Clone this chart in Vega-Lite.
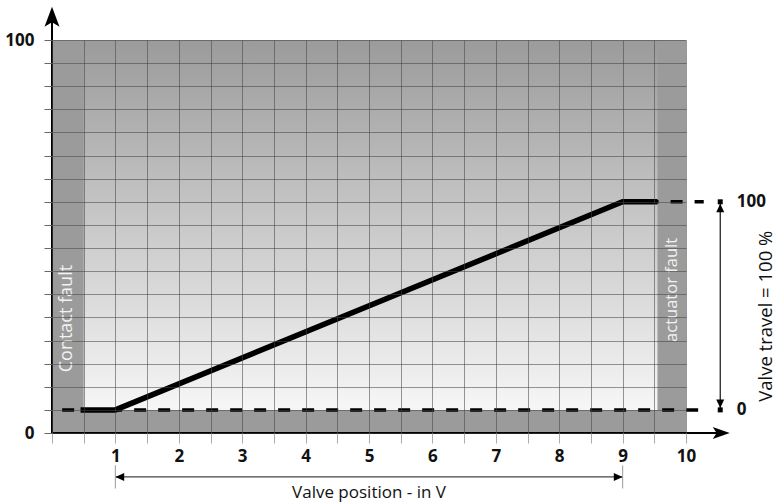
{
  "$schema": "https://vega.github.io/schema/vega-lite/v6.json",
  "width": 634,
  "height": 393,
  "autosize": {"type": "none"},
  "padding": {"left": 52, "top": 40, "right": 92, "bottom": 71},
  "background": "white",
  "config": {
    "view": {"stroke": null},
    "font": "Open Sans"
  },
  "datasets": {
    "bg": [{"x": 0, "x2": 10, "y": 0, "y2": 17}],
    "bands": [
      {"x": 0, "x2": 0.5, "y": 0, "y2": 17},
      {"x": 9.55, "x2": 10, "y": 0, "y2": 17},
      {"x": 0, "x2": 10, "y": 0, "y2": 1}
    ],
    "bandText1": [{"x": 0.23, "y": 4.95, "t": "Contact fault"}],
    "bandText2": [{"x": 9.78, "y": 6.19, "t": "actuator fault"}],
    "dashes": [
      {"x": 0.16, "x2": 10.28, "y": 1},
      {"x": 9, "x2": 10.28, "y": 10}
    ],
    "curve": [
      {"x": 0.45, "y": 1},
      {"x": 1, "y": 1},
      {"x": 9, "y": 10},
      {"x": 9.55, "y": 10}
    ],
    "axisX": [{"x": 0, "x2": 10.6, "y": 0}],
    "axisY": [{"x": 0, "y": 0, "y2": 18}],
    "xTip": [{"x": 10.69, "y": 0}],
    "yTip": [{"x": 0, "y": 18.44}],
    "vDim": [{"x": 10.54, "y": 1, "y2": 10}],
    "vEnds": [{"x": 10.54, "y": 1}, {"x": 10.54, "y": 10}],
    "vUp": [{"x": 10.54, "y": 10}],
    "vDown": [{"x": 10.54, "y": 1}],
    "hDim": [{"x": 1, "x2": 9, "y": -1.9}],
    "hEnds": [{"x": 1, "y": -1.4, "y2": -2.4}, {"x": 9, "y": -1.4, "y2": -2.4}],
    "hLeft": [{"x": 1, "y": -1.9}],
    "hRight": [{"x": 9, "y": -1.9}],
    "rightLabels": [{"x": 10.8, "y": 10, "t": "100"}, {"x": 10.8, "y": 1, "t": "0"}],
    "vTitle": [{"x": 11.35, "y": 5.05, "t": "Valve travel = 100 %"}],
    "hTitle": [{"x": 5, "y": -2.6, "t": "Valve position - in V"}]
  },
  "encoding": {
    "x": {
      "field": "x", "type": "quantitative",
      "scale": {"domain": [0, 10], "nice": false, "zero": false},
      "axis": {
        "values": [0, 0.5, 1, 1.5, 2, 2.5, 3, 3.5, 4, 4.5, 5, 5.5, 6, 6.5, 7, 7.5, 8, 8.5, 9, 9.5, 10],
        "grid": true,
        "gridColor": "#444444",
        "gridOpacity": 0.55,
        "gridWidth": 1,
        "domain": false,
        "tickSize": 10,
        "tickColor": "#aaaaaa",
        "tickWidth": 1,
        "labelExpr": "datum.value > 0 && datum.value % 1 == 0 ? format(datum.value, 'd') : ''",
        "labelFont": "Open Sans",
        "labelFontWeight": "bold",
        "labelFontSize": 17,
        "labelColor": "#111111",
        "labelPadding": 5,
        "labelOverlap": false,
        "labelFlush": false,
        "labelBound": false,
        "zindex": 1,
        "title": null
      }
    },
    "y": {
      "field": "y", "type": "quantitative",
      "scale": {"domain": [0, 17], "nice": false, "zero": false},
      "axis": {
        "values": [0, 1, 2, 3, 4, 5, 6, 7, 8, 9, 10, 11, 12, 13, 14, 15, 16, 17],
        "grid": true,
        "gridColor": "#444444",
        "gridOpacity": 0.55,
        "gridWidth": 1,
        "domain": false,
        "tickSize": 8,
        "tickColor": "#666666",
        "tickWidth": 1,
        "labelExpr": "datum.value == 17 ? '100' : (datum.value == 0 ? '0' : '')",
        "labelFont": "Open Sans",
        "labelFontWeight": "bold",
        "labelFontSize": 17,
        "labelColor": "#111111",
        "labelPadding": 10,
        "labelOverlap": false,
        "labelFlush": false,
        "labelBound": false,
        "zindex": 1,
        "title": null
      }
    }
  },
  "layer": [
    {
      "data": {"name": "bg"},
      "mark": {
        "type": "rect",
        "color": {
          "gradient": "linear",
          "x1": 0, "y1": 0, "x2": 0, "y2": 1,
          "stops": [
            {"offset": 0, "color": "#9b9b9b"},
            {"offset": 1, "color": "#fcfcfc"}
          ]
        }
      },
      "encoding": {"x2": {"field": "x2"}, "y2": {"field": "y2"}}
    },
    {
      "data": {"name": "bands"},
      "mark": {"type": "rect", "color": "#9b9b9b"},
      "encoding": {"x2": {"field": "x2"}, "y2": {"field": "y2"}}
    },
    {
      "data": {"name": "bandText1"},
      "mark": {"type": "text", "angle": 270, "align": "center", "baseline": "middle", "fontSize": 18, "color": "#f2f2f2", "font": "Open Sans"},
      "encoding": {"text": {"field": "t"}}
    },
    {
      "data": {"name": "bandText2"},
      "mark": {"type": "text", "angle": 270, "align": "center", "baseline": "middle", "fontSize": 16.5, "color": "#f2f2f2", "font": "Open Sans"},
      "encoding": {"text": {"field": "t"}}
    },
    {
      "data": {"name": "dashes"},
      "mark": {"type": "rule", "color": "#000000", "strokeWidth": 3.5, "strokeDash": [12, 12], "strokeCap": "butt"},
      "encoding": {"x2": {"field": "x2"}}
    },
    {
      "data": {"name": "curve"},
      "mark": {"type": "line", "color": "#000000", "strokeWidth": 5.5, "strokeCap": "butt", "strokeJoin": "miter"},
      "encoding": {}
    },
    {
      "data": {"name": "axisX"},
      "mark": {"type": "rule", "color": "#000000", "strokeWidth": 2},
      "encoding": {"x2": {"field": "x2"}}
    },
    {
      "data": {"name": "axisY"},
      "mark": {"type": "rule", "color": "#000000", "strokeWidth": 2},
      "encoding": {"y2": {"field": "y2"}}
    },
    {
      "data": {"name": "xTip"},
      "mark": {"type": "point", "shape": "M0,0L-2,-0.72L-1.55,0L-2,0.72Z", "size": 289, "filled": true, "color": "#000000", "opacity": 1},
      "encoding": {}
    },
    {
      "data": {"name": "yTip"},
      "mark": {"type": "point", "shape": "M0,0L-0.75,2L0,1.55L0.75,2Z", "size": 400, "filled": true, "color": "#000000", "opacity": 1},
      "encoding": {}
    },
    {
      "data": {"name": "vDim"},
      "mark": {"type": "rule", "color": "#111111", "strokeWidth": 1.2},
      "encoding": {"y2": {"field": "y2"}}
    },
    {
      "data": {"name": "vEnds"},
      "mark": {"type": "point", "shape": "square", "size": 25, "filled": true, "color": "#000000", "opacity": 1},
      "encoding": {}
    },
    {
      "data": {"name": "vUp"},
      "mark": {"type": "point", "shape": "M0,0.5L-1,2.6L1,2.6Z", "size": 64, "filled": true, "color": "#000000", "opacity": 1},
      "encoding": {}
    },
    {
      "data": {"name": "vDown"},
      "mark": {"type": "point", "shape": "M0,-0.5L-1,-2.6L1,-2.6Z", "size": 64, "filled": true, "color": "#000000", "opacity": 1},
      "encoding": {}
    },
    {
      "data": {"name": "hDim"},
      "mark": {"type": "rule", "color": "#444444", "strokeWidth": 1.3},
      "encoding": {"x2": {"field": "x2"}}
    },
    {
      "data": {"name": "hEnds"},
      "mark": {"type": "rule", "color": "#aaaaaa", "strokeWidth": 1.2},
      "encoding": {"y2": {"field": "y2"}}
    },
    {
      "data": {"name": "hLeft"},
      "mark": {"type": "point", "shape": "M0,0L2.2,-1L2.2,1Z", "size": 64, "filled": true, "color": "#000000", "opacity": 1},
      "encoding": {}
    },
    {
      "data": {"name": "hRight"},
      "mark": {"type": "point", "shape": "M0,0L-2.2,-1L-2.2,1Z", "size": 64, "filled": true, "color": "#000000", "opacity": 1},
      "encoding": {}
    },
    {
      "data": {"name": "rightLabels"},
      "mark": {"type": "text", "align": "left", "baseline": "middle", "fontSize": 17, "fontWeight": "bold", "color": "#111111", "font": "Open Sans"},
      "encoding": {"text": {"field": "t"}}
    },
    {
      "data": {"name": "vTitle"},
      "mark": {"type": "text", "angle": 270, "align": "center", "baseline": "alphabetic", "fontSize": 18.5, "color": "#111111", "font": "Open Sans"},
      "encoding": {"text": {"field": "t"}}
    },
    {
      "data": {"name": "hTitle"},
      "mark": {"type": "text", "align": "center", "baseline": "middle", "fontSize": 17, "color": "#111111", "font": "Open Sans"},
      "encoding": {"text": {"field": "t"}}
    }
  ]
}
